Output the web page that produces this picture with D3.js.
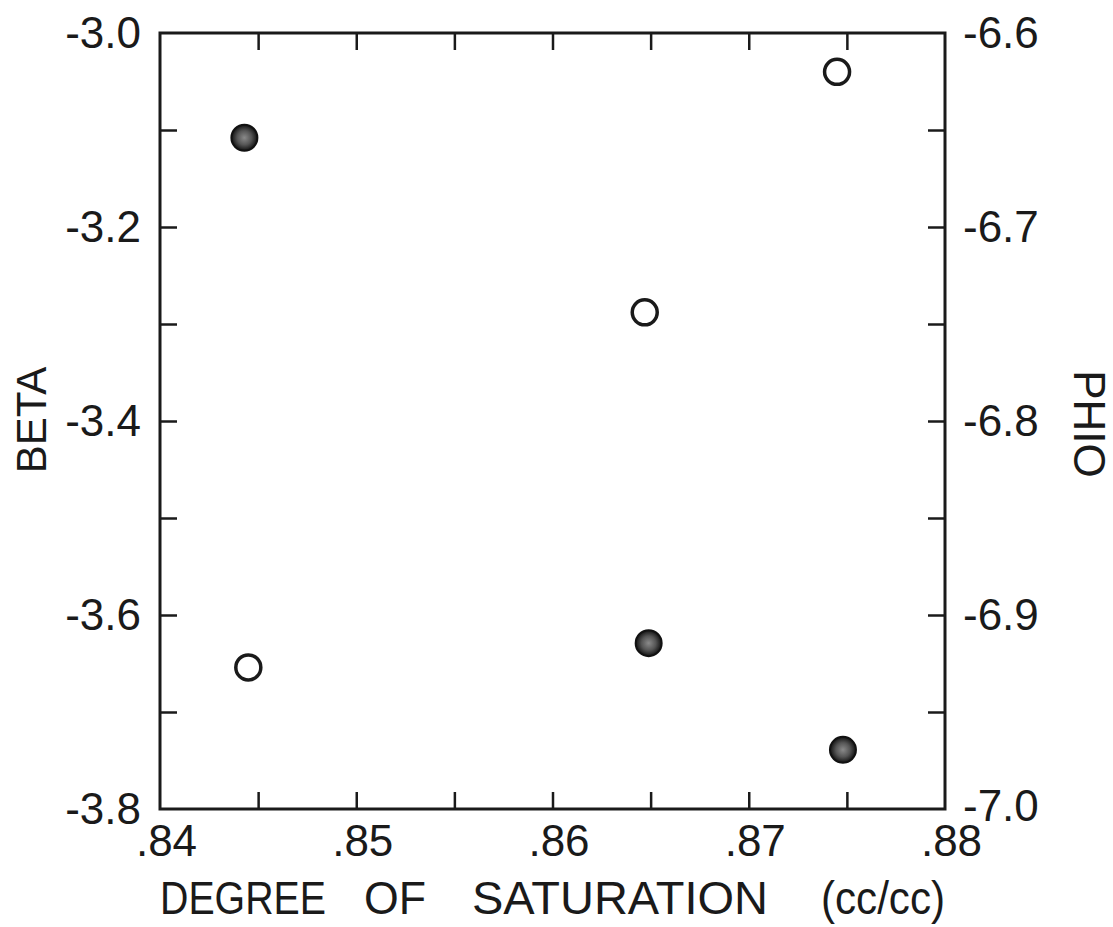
<!DOCTYPE html>
<html>
<head>
<meta charset="utf-8">
<script src="https://cdn.jsdelivr.net/npm/d3@7"></script>
<style>
  body { margin: 0; background: #fff; }
  svg { display: block; }
  text { font-family: "Liberation Sans", Arial, sans-serif; fill: #1a1a1a; }
</style>
</head>
<body>
<svg id="chart" width="1113" height="927"></svg>
<script>
// data
var betaX = [0.8443, 0.8649, 0.8748];      // filled dots, left axis
var betaY = [-3.108, -3.629, -3.739];
var phioX = [0.8745, 0.8647, 0.8445];      // open dots, right axis
var phioY = [-6.620, -6.744, -6.927];

var xTicks = [0.845, 0.85, 0.855, 0.86, 0.865, 0.87, 0.875];
var xLabels = [0.84, 0.85, 0.86, 0.87, 0.88];
var betaTicks = [-3.1, -3.2, -3.3, -3.4, -3.5, -3.6, -3.7];
var betaLabels = [-3.0, -3.2, -3.4, -3.6, -3.8];
var phioTicks = [-6.65, -6.7, -6.75, -6.8, -6.85, -6.9, -6.95];
var phioLabels = [-6.6, -6.7, -6.8, -6.9, -7.0];
var xTitle = ["DEGREE", "OF", "SATURATION", "(cc/cc)"];

var svg = d3.select("#chart");
var m = {left: 160, top: 33, right: 945, bottom: 809};
var ink = "#1a1a1a";

var x = d3.scaleLinear().domain([0.84, 0.88]).range([m.left, m.right]);
var yB = d3.scaleLinear().domain([-3.0, -3.8]).range([m.top, m.bottom]);
var yP = d3.scaleLinear().domain([-6.6, -7.0]).range([m.top, m.bottom]);

var fmt = function(d) { return d3.format(".1f")(d).replace("\u2212", "-"); };
var fmtX = function(d) { return d3.format(".2f")(d).replace(/^0/, ""); };

// gradient for the filled dots (grey speckled centre)
var grad = svg.append("defs").append("radialGradient").attr("id", "dot");
grad.append("stop").attr("offset", "0%").attr("stop-color", "#8a8a8a");
grad.append("stop").attr("offset", "55%").attr("stop-color", "#555");
grad.append("stop").attr("offset", "100%").attr("stop-color", "#111");

// tick marks (pointing inward)
function tickAxis(axis, tx, ty) {
  var g = svg.append("g").attr("transform", "translate(" + tx + "," + ty + ")").call(axis);
  g.select(".domain").remove();
  g.selectAll(".tick line").attr("stroke", ink).attr("stroke-width", 2.5);
  return g;
}
tickAxis(d3.axisBottom(x).tickValues(xTicks).tickSize(-17).tickFormat(""), 0, m.bottom);
tickAxis(d3.axisTop(x).tickValues(xTicks).tickSize(-17).tickFormat(""), 0, m.top);
tickAxis(d3.axisLeft(yB).tickValues(betaTicks).tickSize(-17).tickFormat(""), m.left, 0);
tickAxis(d3.axisRight(yP).tickValues(phioTicks).tickSize(-17).tickFormat(""), m.right, 0);

// frame
svg.append("rect")
  .attr("x", m.left).attr("y", m.top)
  .attr("width", m.right - m.left).attr("height", m.bottom - m.top)
  .attr("fill", "none").attr("stroke", ink).attr("stroke-width", 3);

// tick labels
function labelAxis(axis, tx, ty, pad) {
  var g = svg.append("g").attr("transform", "translate(" + tx + "," + ty + ")")
    .call(axis.tickSize(0).tickPadding(pad));
  g.select(".domain").remove();
  g.selectAll(".tick line").remove();
  g.selectAll("text").attr("font-size", 44).attr("fill", ink)
    .style("font-family", "'Liberation Sans', Arial, sans-serif");
  return g;
}
labelAxis(d3.axisLeft(yB).tickValues(betaLabels).tickFormat(fmt), m.left, 0, 19);
var ry = labelAxis(d3.axisRight(yP).tickValues(phioLabels).tickFormat(fmt), m.right, 0, 18);
ry.selectAll(".tick").filter(function(d) { return d === -7.0; })
  .select("text").attr("y", -3);
var bx = labelAxis(d3.axisBottom(x).tickValues(xLabels).tickFormat(fmtX), 6, m.bottom, 15);
bx.selectAll("text").attr("dy", "0.72em");

// axis titles
svg.append("text")
  .attr("transform", "translate(46,420) rotate(-90)")
  .attr("text-anchor", "middle")
  .attr("font-size", 42)
  .text("BETA");
svg.append("text")
  .attr("transform", "translate(1074,424) rotate(90)")
  .attr("text-anchor", "middle")
  .attr("font-size", 44)
  .text("PHIO");

var titleX = [160, 364, 472, 821];
var titleW = [166, 62, 296, 124];
svg.append("g").selectAll("text")
  .data(xTitle)
  .enter().append("text")
  .attr("x", function(d, i) { return titleX[i]; })
  .attr("y", 914)
  .attr("font-size", 46)
  .attr("textLength", function(d, i) { return titleW[i]; })
  .attr("lengthAdjust", "spacingAndGlyphs")
  .text(function(d) { return d; });

// points
svg.append("g").selectAll("circle")
  .data(d3.range(betaX.length))
  .enter().append("circle")
  .attr("cx", function(i) { return x(betaX[i]); })
  .attr("cy", function(i) { return yB(betaY[i]); })
  .attr("r", 13)
  .attr("fill", "url(#dot)")
  .attr("stroke", "#111").attr("stroke-width", 2);

svg.append("g").selectAll("circle")
  .data(d3.range(phioX.length))
  .enter().append("circle")
  .attr("cx", function(i) { return x(phioX[i]); })
  .attr("cy", function(i) { return yP(phioY[i]); })
  .attr("r", 12.5)
  .attr("fill", "none")
  .attr("stroke", ink).attr("stroke-width", 3.5);
</script>
</body>
</html>
